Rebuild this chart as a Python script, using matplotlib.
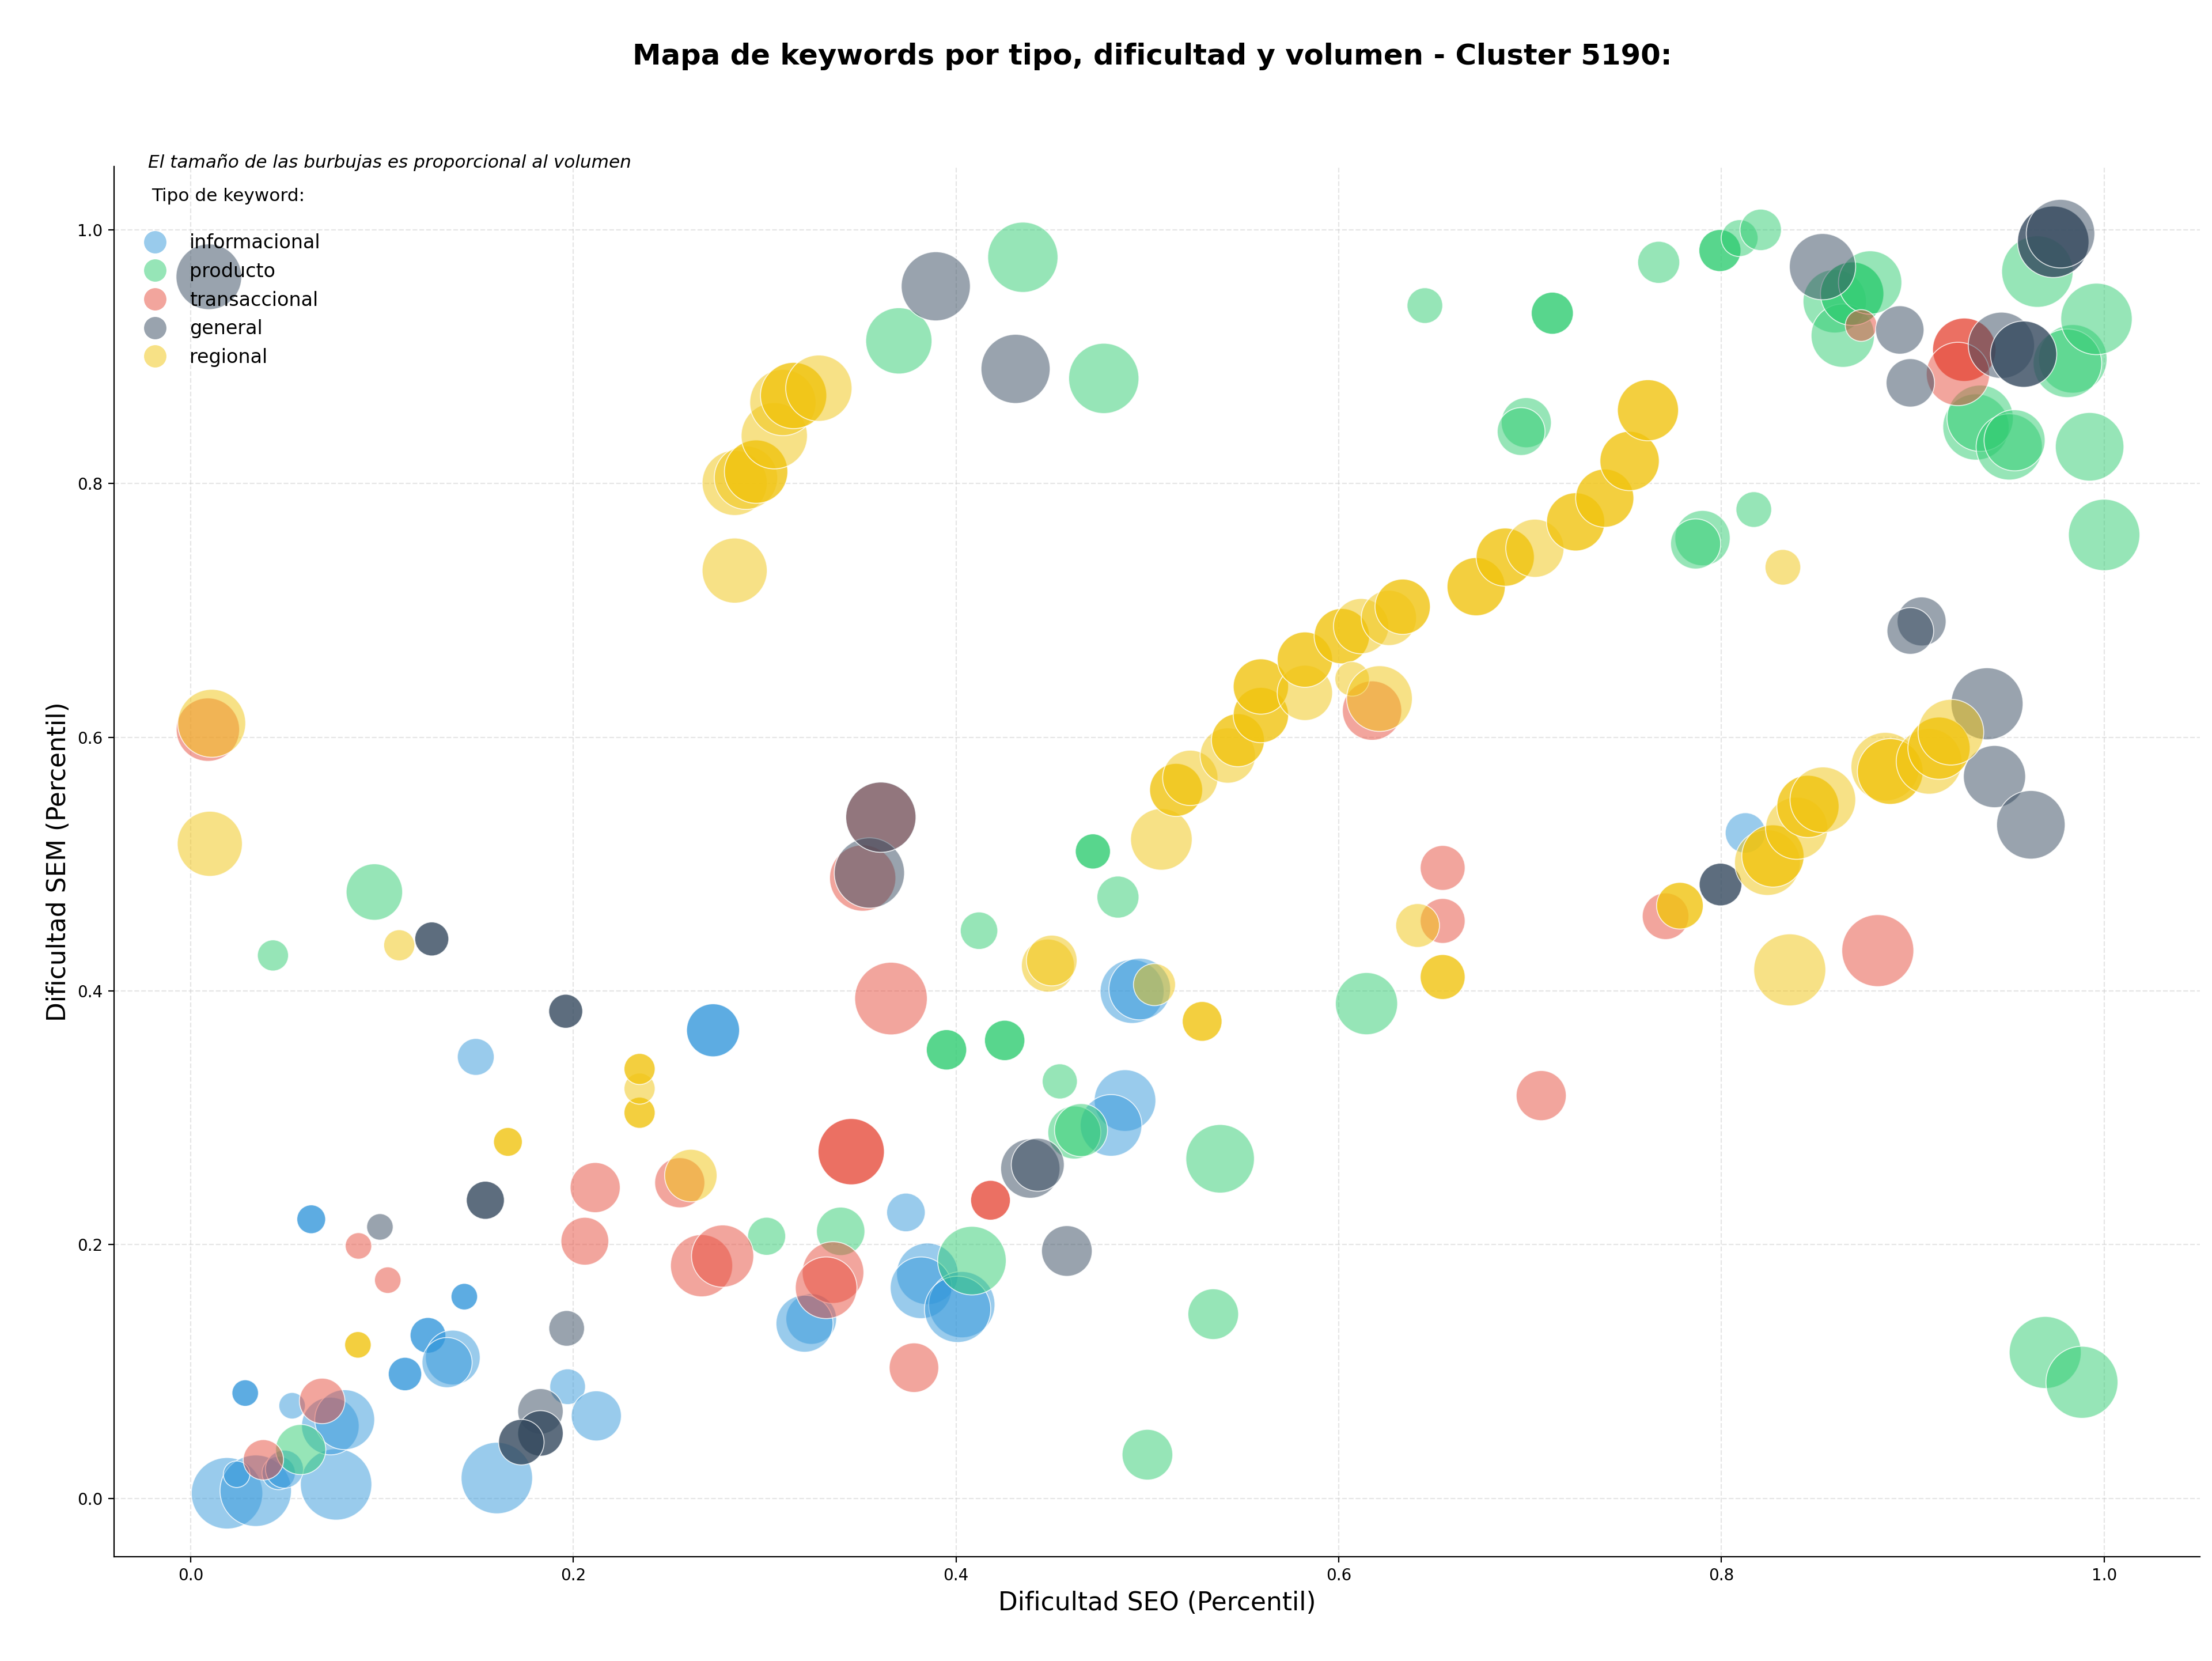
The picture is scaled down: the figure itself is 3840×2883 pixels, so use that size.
import matplotlib
matplotlib.use('Agg')
import matplotlib.pyplot as plt
import numpy as np
from matplotlib.colors import to_rgba
from matplotlib.lines import Line2D

# datos por tipo de keyword: dificultad SEO, dificultad SEM, volumen, destacada (0/1)
info_seo = [0.019, 0.034, 0.076, 0.160, 0.024, 0.046, 0.049, 0.073, 0.0805, 0.053, 0.0285,
            0.112, 0.124, 0.137, 0.134, 0.143, 0.063, 0.197, 0.212, 0.149, 0.273, 0.3243,
            0.3208, 0.3738, 0.385, 0.3817, 0.403, 0.4008, 0.492, 0.496, 0.4883, 0.481, 0.8125]
info_sem = [0.004, 0.006, 0.011, 0.016, 0.019, 0.020, 0.023, 0.057, 0.062, 0.073, 0.083,
            0.098, 0.1285, 0.111, 0.107, 0.159, 0.220, 0.088, 0.065, 0.348, 0.369, 0.1414,
            0.1377, 0.2254, 0.177, 0.166, 0.1527, 0.149, 0.3996, 0.4015, 0.3136, 0.294, 0.5246]
info_vol = [1538, 1538, 1538, 1538, 212, 336, 436, 1000, 1082, 212, 212,
            336, 384, 903, 757, 212, 250, 384, 757, 410, 846, 774,
            980, 449, 1145, 1145, 1323, 1323, 1232, 1145, 1145, 1145, 490]
info_dest = [0, 0, 0, 0, 0, 0, 0, 0, 0, 0, 1,
             1, 1, 0, 0, 1, 1, 0, 0, 0, 1, 0,
             0, 0, 0, 0, 0, 0, 0, 0, 0, 0, 0]

prod_seo = [0.0575, 0.043, 0.096, 0.301, 0.3397, 0.4083, 0.395, 0.4254, 0.412, 0.4542, 0.4618,
            0.4653, 0.538, 0.5344, 0.500, 0.4715, 0.4846, 0.6145, 0.9692, 0.9884, 0.3701, 0.4349,
            0.4772, 0.645, 0.7116, 0.7672, 0.7992, 0.8095, 0.8205, 0.8592, 0.8634, 0.8683, 0.8777,
            0.933, 0.9352, 0.9504, 0.9532, 0.9836, 0.9808, 0.996, 0.9651, 0.9924, 1.000, 0.8169,
            0.7901, 0.7865, 0.698, 0.6953]
prod_sem = [0.0385, 0.428, 0.478, 0.2066, 0.2105, 0.1874, 0.3536, 0.361, 0.4475, 0.3287, 0.2884,
            0.2903, 0.2677, 0.1452, 0.0344, 0.510, 0.474, 0.390, 0.115, 0.0915, 0.9125, 0.9784,
            0.8829, 0.9403, 0.9343, 0.9744, 0.9837, 0.9935, 1.000, 0.9437, 0.9166, 0.9497, 0.9585,
            0.8446, 0.8515, 0.8289, 0.8341, 0.8983, 0.8948, 0.9298, 0.9671, 0.829, 0.7595, 0.7795,
            0.757, 0.7524, 0.848, 0.841]
prod_vol = [757, 292, 960, 436, 706, 1416, 490, 490, 423, 372, 846,
            846, 1416, 774, 774, 372, 533, 1166, 1563, 1563, 1323, 1488,
            1488, 384, 533, 533, 533, 410, 518, 1210, 1210, 1210, 1210,
            1323, 1323, 1323, 1124, 1416, 1416, 1538, 1538, 1416, 1538, 384,
            922, 757, 757, 689]
prod_dest = [0, 0, 0, 0, 0, 0, 1, 1, 0, 0, 0,
             0, 0, 0, 0, 1, 0, 0, 0, 0, 0, 0,
             0, 0, 1, 0, 1, 0, 0, 0, 0, 1, 0,
             0, 0, 0, 0, 0, 0, 0, 0, 0, 0, 0,
             0, 0, 0, 0]

trans_seo = [0.038, 0.0687, 0.0877, 0.103, 0.2114, 0.206, 0.2556, 0.267, 0.278, 0.3357, 0.3321,
             0.378, 0.3452, 0.418, 0.366, 0.3512, 0.3607, 0.009, 0.6174, 0.6543, 0.6543, 0.7708,
             0.8817, 0.7058, 0.873, 0.9269, 0.9236]
trans_sem = [0.0304, 0.0768, 0.199, 0.172, 0.245, 0.2027, 0.2488, 0.1834, 0.191, 0.178, 0.166,
             0.103, 0.2733, 0.235, 0.394, 0.489, 0.537, 0.606, 0.621, 0.497, 0.4552, 0.4589,
             0.4318, 0.3175, 0.9246, 0.9055, 0.8864]
trans_vol = [490, 624, 212, 212, 757, 689, 757, 1166, 1166, 1145, 1145,
             740, 1323, 476, 1588, 1323, 1488, 1210, 1061, 608, 608, 656,
             1563, 757, 302, 1210, 1210]
trans_dest = [0, 0, 0, 0, 0, 0, 0, 0, 0, 0, 0,
              0, 1, 1, 0, 0, 0, 0, 0, 0, 0, 0,
              0, 0, 0, 1, 0]

gen_seo = [0.0095, 0.0989, 0.154, 0.1965, 0.1828, 0.1828, 0.1728, 0.126, 0.196, 0.3547, 0.3607,
           0.4388, 0.4427, 0.4579, 0.3894, 0.4311, 0.8528, 0.8932, 0.8987, 0.9463, 0.9579, 0.9734,
           0.9772, 0.9046, 0.8987, 0.9388, 0.9427, 0.9617, 0.7995]
gen_sem = [0.963, 0.214, 0.235, 0.134, 0.0686, 0.0512, 0.0443, 0.441, 0.384, 0.493, 0.537,
           0.260, 0.263, 0.195, 0.9555, 0.8904, 0.971, 0.9211, 0.8794, 0.909, 0.902, 0.9906,
           0.997, 0.6913, 0.6838, 0.6264, 0.569, 0.531, 0.4839]
gen_vol = [1300, 212, 436, 384, 624, 624, 624, 348, 348, 1488, 1488,
           1061, 846, 774, 1440, 1440, 1323, 706, 706, 1323, 1323, 1538,
           1416, 723, 656, 1563, 1166, 1416, 548]
gen_dest = [0, 0, 1, 0, 0, 1, 1, 1, 1, 0, 0,
            0, 0, 0, 0, 0, 0, 0, 0, 0, 1, 1,
            0, 0, 0, 0, 0, 0, 1]

reg_seo = [0.0874, 0.1658, 0.2346, 0.2346, 0.2346, 0.2614, 0.109, 0.011, 0.010, 0.2843, 0.2843,
           0.2902, 0.2955, 0.305, 0.3095, 0.3151, 0.3283, 0.448, 0.450, 0.5037, 0.5286, 0.5073,
           0.515, 0.5224, 0.542, 0.5473, 0.5593, 0.5593, 0.5823, 0.5823, 0.6016, 0.6117, 0.607,
           0.6213, 0.6262, 0.6334, 0.6718, 0.687, 0.7025, 0.7238, 0.739, 0.752, 0.7616, 0.8321,
           0.6412, 0.6543, 0.7783, 0.8357, 0.824, 0.8269, 0.8393, 0.8452, 0.853, 0.8856, 0.8882,
           0.9085, 0.9137, 0.9199]
reg_sem = [0.121, 0.281, 0.304, 0.323, 0.3385, 0.2545, 0.436, 0.611, 0.516, 0.7314, 0.8005,
           0.8046, 0.8094, 0.8377, 0.8639, 0.8694, 0.8752, 0.420, 0.424, 0.405, 0.376, 0.5195,
           0.5585, 0.568, 0.5856, 0.5977, 0.6175, 0.640, 0.635, 0.6612, 0.6797, 0.6876, 0.646,
           0.6305, 0.6941, 0.7029, 0.7187, 0.742, 0.749, 0.7698, 0.7885, 0.8178, 0.8578, 0.734,
           0.4516, 0.411, 0.4672, 0.4166, 0.5012, 0.5064, 0.5283, 0.5455, 0.5507, 0.5768, 0.573,
           0.581, 0.5914, 0.604]
reg_vol = [212, 250, 292, 292, 292, 828, 292, 1392, 1277, 1277, 1277,
           1210, 1210, 1323, 1323, 1323, 1323, 846, 774, 533, 476, 1145,
           846, 922, 922, 846, 922, 922, 922, 922, 922, 922, 360,
           1300, 922, 922, 1020, 1020, 1020, 1020, 1020, 1061, 1124, 384,
           578, 608, 656, 1563, 1300, 1166, 1166, 1166, 1300, 1416, 1300,
           1300, 1166, 1300]
reg_dest = [1, 1, 1, 0, 1, 0, 0, 0, 0, 0, 0,
            0, 1, 0, 0, 1, 0, 0, 0, 0, 1, 0,
            1, 0, 0, 1, 1, 1, 0, 1, 1, 0, 0,
            0, 0, 1, 1, 1, 0, 1, 1, 1, 1, 0,
            0, 1, 1, 0, 0, 1, 0, 1, 0, 0, 1,
            0, 1, 0]

tipos = ['informacional', 'producto', 'transaccional', 'general', 'regional']
colores = {'informacional': '#3498db', 'producto': '#2ecc71', 'transaccional': '#e74c3c',
           'general': '#34495e', 'regional': '#f1c40f'}
series = {
    'informacional': (info_seo, info_sem, info_vol, info_dest),
    'producto': (prod_seo, prod_sem, prod_vol, prod_dest),
    'transaccional': (trans_seo, trans_sem, trans_vol, trans_dest),
    'general': (gen_seo, gen_sem, gen_vol, gen_dest),
    'regional': (reg_seo, reg_sem, reg_vol, reg_dest),
}

fig = plt.figure(figsize=(19.2, 14.415), dpi=200)
ax = fig.add_axes([0.0516, 0.0628, 0.9429, 0.837])

for tipo in tipos:
    x, y, vol, dest = series[tipo]
    alphas = np.where(np.array(dest) == 1, 0.8, 0.5)
    caras = [to_rgba(colores[tipo], a) for a in alphas]
    ax.scatter(x, y, s=np.array(vol) * 1.296, c=caras,
               edgecolors=(1, 1, 1, 0.8), linewidths=0.6)

ax.set_xlim(-0.04, 1.05)
ax.set_ylim(-0.046, 1.05)
ax.set_xticks(np.arange(0, 1.01, 0.2))
ax.set_yticks(np.arange(0, 1.01, 0.2))
ax.tick_params(labelsize=10)
ax.grid(True, linestyle='--', color='#cccccc', alpha=0.5, linewidth=0.8)
ax.set_axisbelow(True)
ax.spines['top'].set_visible(False)
ax.spines['right'].set_visible(False)

ax.set_xlabel('Dificultad SEO (Percentil)', fontsize=15.8)
ax.set_ylabel('Dificultad SEM (Percentil)', fontsize=15.8)

fig.text(0.5208, 0.966, 'Mapa de keywords por tipo, dificultad y volumen - Cluster 5190:',
         ha='center', va='center', fontsize=17.9, fontweight='bold')
ax.text(0.0163, 1.003, 'El tamaño de las burbujas es proporcional al volumen',
        transform=ax.transAxes, fontsize=11.2, style='italic', va='center', ha='left')

handles = [Line2D([], [], marker='o', linestyle='', markersize=14,
                  markerfacecolor=colores[t], markeredgecolor='none', alpha=0.5) for t in tipos]
# linea en blanco bajo el titulo para separar las entradas
leg = ax.legend(handles, tipos, title='Tipo de keyword:\n', loc='upper left', frameon=False,
                fontsize=12, title_fontsize=11.2, labelspacing=0.5,
                bbox_to_anchor=(0.002, 0.997))

fig.savefig('out.png', dpi=200)
